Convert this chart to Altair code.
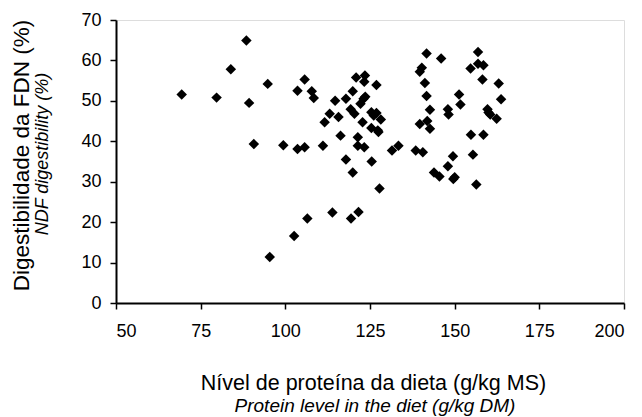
import altair as alt
import pandas as pd

protein = [69.4, 79.7, 83.9, 88.5, 89.3, 90.7, 94.8, 95.4, 99.4, 102.6,
           103.6, 103.6, 105.7, 105.7, 106.5, 107.8, 108.4, 111.1, 111.6, 113.1,
           113.9, 114.7, 115.7, 116.3, 117.9, 117.9, 119.3, 119.4, 119.9, 119.9,
           120.9, 120.4, 121.4, 121.6, 121.4, 122.8, 123.3, 123.5, 123.3, 122.2,
           123.1, 123.6, 125.4, 125.4, 125.5, 126.1, 126.9, 126.9, 127.3, 127.5,
           127.8, 128.2, 131.5, 133.4, 138.5, 139.7, 139.7, 140.3, 140.6, 141.2,
           141.7, 141.7, 141.9, 142.7, 142.7, 143.9, 145.5, 146.0, 148.0, 148.0,
           148.2, 149.5, 149.6, 150.0, 151.3, 151.7, 154.7, 154.8, 155.4, 156.4,
           156.9, 156.9, 158.2, 158.5, 158.5, 159.7, 160.0, 160.5, 162.4, 163.0,
           163.7]
ndf = [51.6, 50.8, 57.8, 64.9, 49.5, 39.3, 54.2, 11.4, 39.0, 16.6,
       52.5, 38.1, 38.5, 55.3, 20.9, 52.4, 50.7, 38.9, 44.7, 46.8,
       22.4, 50.0, 46.0, 41.4, 35.5, 50.5, 47.9, 20.9, 32.3, 52.4,
       55.8, 46.8, 41.0, 22.5, 38.9, 44.7, 38.5, 56.3, 54.7, 49.3,
       50.5, 51.0, 47.2, 43.3, 35.0, 46.4, 53.9, 47.0, 42.7, 42.3,
       28.3, 45.4, 37.7, 38.9, 37.7, 44.3, 57.2, 58.2, 37.3, 54.4,
       51.2, 61.7, 45.0, 43.1, 47.8, 32.3, 31.3, 60.5, 33.8, 47.9,
       46.6, 36.3, 30.7, 31.1, 51.6, 49.1, 58.0, 41.6, 36.7, 29.3,
       62.1, 59.2, 55.3, 58.8, 41.6, 47.9, 47.1, 46.6, 45.6, 54.3,
       50.4]

x_ticks = [50, 75, 100, 125, 150, 175, 200]
y_ticks = [0, 10, 20, 30, 40, 50, 60, 70]

x_title = "Nível de proteína da dieta (g/kg MS)"
x_subtitle = "Protein level in the diet (g/kg DM)"
y_title = "Digestibilidade da FDN (%)"
y_subtitle = "NDF digestibility (%)"

df = pd.DataFrame({"protein": protein, "ndf": ndf})

FONT = "Liberation Sans"
W, H = 508, 283

points = alt.Chart(df).mark_point(
    shape="diamond", filled=True, color="black", size=110, opacity=1
).encode(
    x=alt.X("protein:Q",
            scale=alt.Scale(domain=[50, 200], nice=False, zero=False),
            axis=alt.Axis(values=x_ticks, title=x_title, grid=False,
                          domainColor="black", domainWidth=2,
                          tickColor="black", tickWidth=1.5, tickSize=6,
                          labelFont=FONT, labelFontSize=18, labelColor="black",
                          labelPadding=13,
                          titleFont=FONT, titleFontSize=21.5, titleFontWeight="normal",
                          titleColor="black", titleX=257, titleY=80,
                          titleBaseline="middle", titleAlign="center")),
    y=alt.Y("ndf:Q",
            scale=alt.Scale(domain=[0, 70], nice=False),
            axis=alt.Axis(values=y_ticks, title=y_title, grid=False,
                          domainColor="black", domainWidth=2,
                          tickColor="black", tickWidth=1.5, tickSize=6,
                          labelFont=FONT, labelFontSize=18, labelColor="black",
                          labelPadding=9,
                          titleFont=FONT, titleFontSize=22.5, titleFontWeight="normal",
                          titleColor="black", titleX=-95, titleY=135,
                          titleBaseline="middle", titleAlign="center",
                          titleAngle=270)),
)

sub_df = pd.DataFrame({"t": [x_subtitle]})
x_sub = alt.Chart(sub_df).mark_text(
    font=FONT, fontSize=19, fontStyle="italic", color="black",
    align="center", baseline="middle"
).encode(text="t:N", x=alt.value(259), y=alt.value(386))

ysub_df = pd.DataFrame({"t": [y_subtitle]})
y_sub = alt.Chart(ysub_df).mark_text(
    font=FONT, fontSize=18, fontStyle="italic", color="black",
    align="center", baseline="middle", angle=270
).encode(text="t:N", x=alt.value(-73), y=alt.value(134))

chart = alt.layer(points, x_sub, y_sub).properties(
    width=W, height=H,
    autosize=alt.AutoSizeParams(type="none"),
    padding={"left": 116, "top": 20, "right": 18, "bottom": 114},
).configure_view(stroke=None).configure(background="white")

chart.save("out.html", embed_options={"renderer": "svg", "actions": False})
